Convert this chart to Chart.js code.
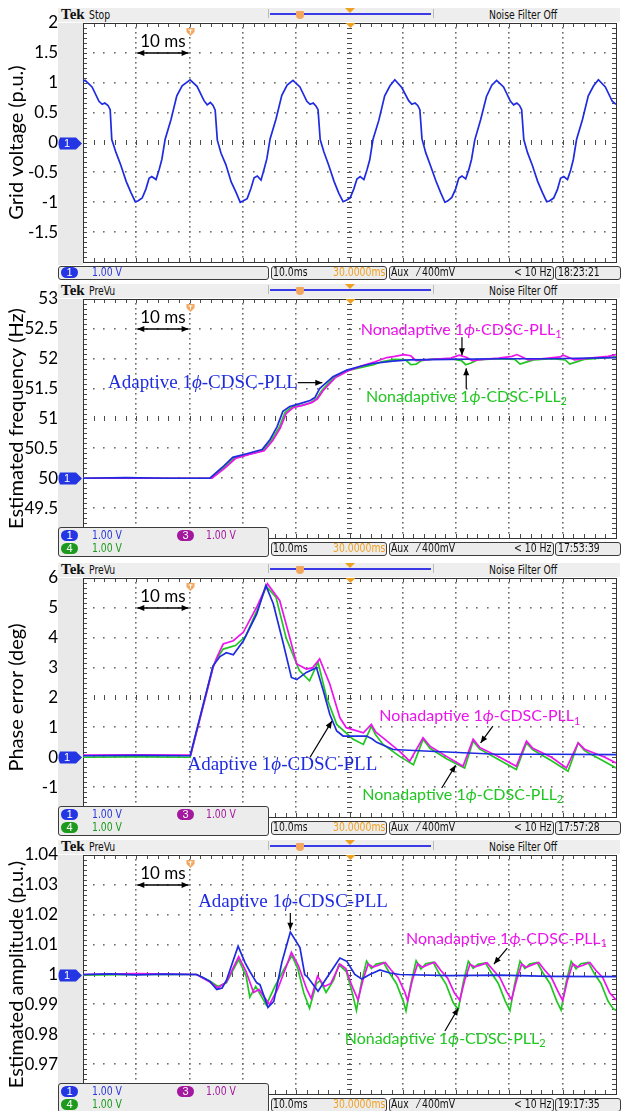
<!DOCTYPE html>
<html>
<head>
<meta charset="utf-8">
<title>1-phase CDSC-PLL comparison</title>
<script src="https://cdn.jsdelivr.net/npm/chart.js@4.4.1/dist/chart.umd.min.js"></script>
<style>
  body { margin: 0; background: #fff; }
  #page { position: relative; width: 623px; height: 1111px; overflow: hidden; }
  #page canvas { position: absolute; left: 0; z-index: 1; }
  #page div { position: absolute; }
  .tk { font-family: "Liberation Sans Narrow", "DejaVu Sans Condensed", "Liberation Sans", sans-serif;
        font-size: 12px; line-height: 13px; white-space: nowrap; color: #111;
        transform: scaleX(0.86); transform-origin: 0 50%; }
  .box { background: #ececec; border: 1px solid #3c3c3c; border-radius: 3px; box-sizing: border-box; z-index: 2; }
  .pill { width: 17px; height: 11px; border-radius: 6px; color: #fff; text-align: center;
          font: 11px/11px "Liberation Sans", sans-serif; }
</style>
</head>
<body>
<div id="page"></div>
<script>
// ---------- data (time in ms, 10 ms per division) ----------

// grid voltage (p.u.)
const gridT = [
  0, 0.4, 1.7, 3.0, 3.6, 4.1, 4.7, 5.1, 5.4, 6.2, 7.1, 8.1, 9.0, 9.8, 10.3, 11.1, 11.8, 12.4, 12.9, 13.7, 14.3, 14.8, 15.4, 16.5, 17.6, 18.6,
  20.1, 21.4, 22.7, 23.3, 23.9, 24.4, 24.8, 25.2, 25.9, 26.8, 27.8, 28.7, 29.5, 30.0, 30.8, 31.5, 32.1, 32.7, 33.4, 34.0, 34.5, 35.1, 36.2, 37.3, 38.3,
  39.4, 40.7, 42.0, 42.6, 43.2, 43.7, 44.1, 44.5, 45.2, 46.1, 47.1, 48.0, 48.8, 49.3, 50.1, 50.8, 51.4, 52.0, 52.7, 53.3, 53.8, 54.4, 55.5, 56.6, 57.6,
  58.5, 59.8, 61.1, 61.7, 62.3, 62.8, 63.2, 63.6, 64.3, 65.2, 66.2, 67.1, 67.9, 68.4, 69.2, 69.9, 70.5, 71.1, 71.8, 72.4, 72.9, 73.5, 74.6, 75.7, 76.7,
  77.6, 78.9, 80.2, 80.8, 81.4, 81.9, 82.3, 82.7, 83.4, 84.3, 85.3, 86.2, 87.0, 87.5, 88.3, 89.0, 89.6, 90.2, 90.9, 91.5, 92.0, 92.6, 93.7, 94.8, 95.8,
  96.7, 98.0, 99.3, 100
];
const gridV = [
  1.02, 1.04, 0.93, 0.69, 0.64, 0.66, 0.62, 0.55, 0.05, -0.17, -0.38, -0.65, -0.84, -0.99, -0.98, -0.93, -0.78, -0.60, -0.57, -0.62, -0.45, -0.28, 0.05, 0.38, 0.78, 0.95,
  1.05, 0.94, 0.70, 0.63, 0.67, 0.62, 0.54, 0.04, -0.18, -0.37, -0.66, -0.83, -1.00, -0.98, -0.94, -0.77, -0.59, -0.56, -0.63, -0.44, -0.27, 0.06, 0.39, 0.79, 0.96,
  1.04, 0.93, 0.69, 0.64, 0.66, 0.61, 0.55, 0.05, -0.16, -0.38, -0.65, -0.85, -0.99, -0.97, -0.93, -0.78, -0.61, -0.57, -0.62, -0.45, -0.29, 0.05, 0.37, 0.78, 0.95,
  1.05, 0.92, 0.70, 0.64, 0.66, 0.62, 0.55, 0.06, -0.17, -0.39, -0.64, -0.84, -1.00, -0.98, -0.92, -0.78, -0.60, -0.56, -0.61, -0.45, -0.28, 0.04, 0.38, 0.77, 0.96,
  1.04, 0.93, 0.69, 0.63, 0.66, 0.62, 0.55, 0.05, -0.17, -0.38, -0.65, -0.84, -0.99, -0.98, -0.93, -0.79, -0.60, -0.57, -0.62, -0.46, -0.28, 0.05, 0.38, 0.78, 0.95,
  1.05, 0.93, 0.69, 0.64
];

// estimated frequency (Hz)
const freqAdT = [0, 8, 16, 23.8, 26.1, 28.1, 30.7, 33.6, 35.1, 36.4, 37.5, 38.8, 40.7, 42.6, 43.5, 44.4, 46.9, 49.5, 51.9, 54.4, 58.1, 61.3, 68.8, 78.2, 87.6, 100];
const freqAdV = [50.0, 50.01, 50.0, 50.0, 50.18, 50.35, 50.41, 50.48, 50.65, 50.86, 51.12, 51.2, 51.25, 51.3, 51.35, 51.5, 51.7, 51.81, 51.87, 51.92, 51.96, 51.98, 51.99, 52.0, 52.0, 52.02];
const freqN1T = [0, 24.2, 26.5, 28.6, 31.2, 34.0, 35.6, 37.0, 38.1, 39.4, 41.2, 43.0, 44.0, 45.0, 47.3, 49.8, 52.3, 54.8, 57.0, 58.5, 60.2, 61.5, 62.5, 64.0, 67.0, 69.0, 70.6, 72.0, 73.0, 75.0, 78.0, 80.5, 81.4, 82.6, 83.5, 86.0, 89.5, 90.1, 91.2, 92.2, 95.0, 98.5, 100];
const freqN1V = [50.0, 50.0, 50.16, 50.33, 50.4, 50.46, 50.63, 50.84, 51.08, 51.18, 51.22, 51.27, 51.33, 51.46, 51.68, 51.8, 51.88, 51.95, 52.02, 52.04, 52.07, 52.05, 51.97, 51.98, 52.0, 52.01, 52.06, 52.02, 51.97, 51.99, 52.01, 52.04, 52.07, 52.02, 51.98, 52.0, 52.03, 52.06, 52.02, 51.98, 52.01, 52.04, 52.07];
const freqN2T = [0, 24.0, 26.3, 28.4, 31.0, 33.8, 35.4, 36.8, 37.9, 39.2, 41.0, 42.6, 43.8, 44.8, 47.1, 49.6, 52.0, 54.5, 56.0, 58.5, 60.5, 61.5, 62.5, 63.5, 66.0, 69.0, 71.0, 71.8, 72.8, 74.0, 78.0, 81.0, 82.0, 83.0, 84.5, 88.0, 90.5, 91.3, 92.3, 94.0, 97.0, 100];
const freqN2V = [50.0, 50.0, 50.17, 50.34, 50.4, 50.47, 50.64, 50.85, 51.1, 51.19, 51.22, 51.26, 51.33, 51.47, 51.69, 51.8, 51.85, 51.9, 51.95, 51.99, 51.98, 51.9, 51.91, 51.97, 52.0, 52.0, 51.97, 51.9, 51.93, 51.98, 52.0, 51.99, 51.91, 51.94, 51.98, 52.0, 51.98, 51.91, 51.94, 51.99, 52.01, 52.03];

// phase error (deg)
const phAdT = [0, 10, 20.1, 24.4, 25.7, 26.9, 28.2, 30.1, 32.6, 34.3, 35.7, 37.6, 39.1, 40.1, 41.9, 43.8, 45.1, 46.3, 47.6, 48.8, 53.2, 54.2, 55.1, 58.2, 65.1, 77.6, 88, 100];
const phAdV = [0.05, 0.06, 0.05, 3.06, 3.37, 3.5, 3.43, 3.9, 4.8, 5.75, 5.14, 3.79, 2.67, 2.6, 2.84, 3.0, 2.22, 1.44, 0.88, 0.71, 0.71, 0.62, 0.5, 0.26, 0.2, 0.1, 0.1, 0.09];
const phN1T = [0, 10, 20.2, 24.4, 25.1, 26.3, 28.2, 30.1, 32.6, 34.6, 36.9, 38.8, 40.1, 41.9, 43.1, 44.4, 46.3, 48.2, 49.4, 52.6, 54.1, 54.9, 56.3, 59.4, 61.3, 63.8, 65.1, 68.2, 71.3, 73.2, 74.4, 78.2, 81.3, 83.2, 84.4, 87.9, 90.7, 92.9, 94.1, 97.9, 100];
const phN1V = [0.07, 0.08, 0.07, 3.0, 3.34, 3.79, 3.9, 4.19, 5.03, 5.81, 5.25, 4.0, 3.12, 2.95, 3.0, 3.29, 2.45, 1.32, 0.99, 0.82, 1.1, 0.85, 0.65, 0.2, -0.13, 0.65, 0.37, 0.03, -0.3, 0.6, 0.33, 0.0, -0.3, 0.54, 0.3, 0.0, -0.36, 0.48, 0.27, 0.0, -0.19];
const phN2T = [0, 10, 20.1, 24.4, 25.1, 26.3, 28.6, 30.5, 32.6, 34.4, 36.2, 38.1, 40.6, 42.5, 44.1, 45.7, 47.6, 50.7, 52.6, 54.1, 54.9, 56.3, 59.4, 62.0, 63.8, 65.1, 68.2, 71.6, 73.2, 74.4, 78.2, 81.3, 83.2, 84.4, 87.9, 91.0, 92.9, 94.1, 97.9, 100];
const phN2V = [0.0, 0.01, 0.0, 3.03, 3.3, 3.62, 3.74, 4.05, 4.9, 5.72, 5.36, 4.0, 2.9, 2.56, 3.18, 2.0, 1.1, 0.6, 0.43, 1.04, 0.75, 0.43, 0.03, -0.25, 0.6, 0.3, -0.05, -0.36, 0.54, 0.28, -0.1, -0.41, 0.48, 0.25, -0.12, -0.47, 0.48, 0.22, -0.15, -0.36];

// estimated amplitude (p.u.)
const ampAdT = [0, 5, 10, 15, 21.3, 22.5, 23.8, 25.1, 26.1, 26.9, 29.1, 30.4, 31.3, 32.6, 33.2, 34.7, 35.8, 37.3, 38.9, 40.7, 41.6, 42.2, 44.1, 45.4, 46.9, 48.2, 49.5, 51.0, 52.3, 53.8, 55.7, 57.6, 59.4, 68.8, 78.2, 87.6, 100];
const ampAdV = [1.0, 1.0002, 0.9999, 1.0001, 1.0, 0.999, 0.9977, 0.995, 0.9955, 0.998, 1.0095, 1.004, 1.001, 0.9972, 0.9966, 0.989, 0.991, 1.004, 1.0142, 1.009, 1.0, 0.999, 0.9944, 0.998, 1.002, 1.0055, 1.0044, 1.0, 0.9985, 1.0, 1.0015, 1.0005, 1.0, 0.9996, 0.9998, 0.9994, 0.9993];
const ampN1T = [
  0, 10, 21.3, 23.8, 25.3, 26.9, 29.2, 30.6, 32.0, 33.0, 35.0, 36.5, 38.0, 39.1, 40.4, 42.0, 42.8, 44.0, 45.3, 46.5, 48.2, 49.3, 50.5,
  51.6, 52.5, 53.5, 54.4, 55.3, 56.7, 57.8, 59.1, 60.4,
  60.9, 61.8, 62.8, 63.7, 64.6, 66.0, 67.1, 68.4, 69.7,
  70.7, 71.6, 72.6, 73.5, 74.4, 75.8, 76.9, 78.2, 79.5,
  80.4, 81.3, 82.3, 83.2, 84.1, 85.5, 86.6, 87.9, 89.2,
  90.0, 90.9, 91.9, 92.8, 93.7, 95.1, 96.2, 97.5, 98.8, 100
];
const ampN1V = [
  1.0, 1.0003, 1.0, 0.9975, 0.9955, 0.9975, 1.006, 1.001, 0.994, 0.995, 0.990, 0.995, 1.002, 1.0074, 1.003, 0.995, 0.992, 0.9994, 0.996, 0.997, 1.0035, 1.002, 0.996,
  0.9915, 0.998, 1.0035, 1.0025, 1.003, 1.004, 1.0015, 0.999, 0.994,
  0.9912, 0.9982, 1.0036, 1.0024, 1.0032, 1.0041, 1.0014, 0.9988, 0.9938,
  0.9914, 0.998, 1.0034, 1.0026, 1.003, 1.0039, 1.0016, 0.999, 0.9942,
  0.9916, 0.9978, 1.0035, 1.0024, 1.0031, 1.004, 1.0015, 0.9989, 0.994,
  0.9913, 0.9981, 1.0036, 1.0025, 1.003, 1.004, 1.0014, 0.999, 0.9939, 0.9915
];
const ampN2T = [
  0, 10, 21.3, 23.8, 25.3, 26.9, 29.2, 30.6, 31.3, 32.4, 34.4, 36.0, 37.8, 39.2, 40.3, 41.4, 42.5, 43.8, 44.5, 45.6, 47.0, 48.0, 49.4, 50.5,
  51.3, 52.2, 53.2, 54.1, 55.0, 56.4, 57.5, 58.8, 60.1,
  60.6, 61.5, 62.5, 63.4, 64.3, 65.7, 66.8, 68.1, 69.4,
  70.4, 71.3, 72.3, 73.2, 74.1, 75.5, 76.6, 77.9, 79.2,
  80.1, 81.0, 82.0, 82.9, 83.8, 85.2, 86.3, 87.6, 88.9,
  89.7, 90.6, 91.6, 92.5, 93.4, 94.8, 95.9, 97.2, 98.5, 99.5, 100
];
const ampN2V = [
  0.9998, 1.0, 1.0, 0.9978, 0.996, 0.9972, 1.005, 0.9995, 0.9924, 0.996, 0.9898, 0.996, 1.002, 1.0063, 1.002, 0.994, 0.9887, 0.997, 0.998, 0.994, 0.998, 1.0033, 1.001, 0.994,
  0.988, 0.997, 1.0045, 1.002, 1.0035, 1.004, 1.0005, 0.997, 0.991,
  0.9878, 0.9968, 1.0046, 1.0018, 1.0036, 1.0041, 1.0004, 0.9968, 0.9908,
  0.9882, 0.997, 1.0044, 1.0021, 1.0034, 1.0039, 1.0006, 0.9971, 0.9912,
  0.9879, 0.9969, 1.0045, 1.002, 1.0035, 1.004, 1.0005, 0.997, 0.991,
  0.9881, 0.997, 1.0044, 1.0019, 1.0036, 1.004, 1.0004, 0.9969, 0.9911, 0.9885, 0.988
];

// y ticks (bottom to top) and their labels
const gridTicks = [-2, -1.5, -1, -0.5, 0, 0.5, 1, 1.5, 2];
const gridLabels = ['', '-1.5', '-1', '-0.5', '0', '0.5', '1', '1.5', '2'];
const freqTicks = [49, 49.5, 50, 50.5, 51, 51.5, 52, 52.5, 53];
const freqLabels = ['', '49.5', '50', '50.5', '51', '51.5', '52', '52.5', '53'];
const phTicks = [-2, -1, 0, 1, 2, 3, 4, 5, 6];
const phLabels = ['', '-1', '0', '1', '2', '3', '4', '5', '6'];
const ampTicks = [0.96, 0.97, 0.98, 0.99, 1.0, 1.01, 1.02, 1.03, 1.04];
const ampLabels = ['', '0.97', '0.98', '0.99', '1', '1.01', '1.02', '1.03', '1.04'];

const yTitles = ['Grid voltage (p.u.)', 'Estimated frequency (Hz)', 'Phase error (deg)', 'Estimated amplitude (p.u.)'];
const runStates = ['Stop', 'PreVu', 'PreVu', 'PreVu'];
const clocks = ['18:23:21', '17:53:39', '17:57:28', '19:17:35'];
const adaptiveName = 'Adaptive 1';
const nonadaptiveName = 'Nonadaptive 1';

// ---------- layout ----------
const BLUE = '#1f2be0', MAGENTA = '#ec14ec', GREEN = '#22c622';
const panelTops = [23, 299, 578, 855];
const PLOT_H = 239;
const page = document.getElementById('page');

function add(css, html, cls) {
  const d = document.createElement('div');
  if (cls) d.className = cls;
  d.style.cssText = css;
  if (html != null) d.innerHTML = html;
  page.appendChild(d);
  return d;
}

function arrowHead(ctx, x1, y1, x2, y2) {
  const a = Math.atan2(y2 - y1, x2 - x1), len = 7, half = 3;
  ctx.beginPath();
  ctx.moveTo(x2, y2);
  ctx.lineTo(x2 - len * Math.cos(a) + half * Math.sin(a), y2 - len * Math.sin(a) - half * Math.cos(a));
  ctx.lineTo(x2 - len * Math.cos(a) - half * Math.sin(a), y2 - len * Math.sin(a) + half * Math.cos(a));
  ctx.closePath();
  ctx.fill();
}
function arrow(ctx, x1, y1, x2, y2, both) {
  ctx.beginPath(); ctx.moveTo(x1, y1); ctx.lineTo(x2, y2); ctx.stroke();
  arrowHead(ctx, x1, y1, x2, y2);
  if (both) arrowHead(ctx, x2, y2, x1, y1);
}

// series name with italic phi and optional subscript
function seriesLabel(ctx, x, y, color, serif, sub) {
  const size = serif ? 19 : 16;
  const fam = serif ? '"Liberation Serif", serif' : 'Lato, sans-serif';
  const parts = [[serif ? adaptiveName : nonadaptiveName, `${size}px ${fam}`, 0],
                 ['\u03d5', `italic ${size}px ${fam}`, 0],
                 ['-CDSC-PLL', `${size}px ${fam}`, 0]];
  if (sub) parts.push([sub, `11px ${fam}`, 5]);
  ctx.fillStyle = color;
  ctx.textAlign = 'left';
  ctx.textBaseline = 'middle';
  let cx = x;
  for (const [t, f, dy] of parts) {
    ctx.font = f;
    ctx.fillText(t, cx, y + dy);
    cx += ctx.measureText(t).width;
  }
}

function graticule(chart) {
  const ctx = chart.ctx, a = chart.chartArea;
  const L = Math.round(a.left), R = Math.round(a.right), T = Math.round(a.top), B = Math.round(a.bottom);
  const dx = (R - L) / 10, dy = (B - T) / 8;
  ctx.save();
  ctx.fillStyle = '#6e6e6e';
  for (let i = 1; i < 10; i++) {
    if (i === 5) continue;
    const x = Math.round(L + i * dx);
    for (let j = 1; j < 48; j++) ctx.fillRect(x - 1, Math.round(T + j * dy / 6) - 1, 1.6, 1.6);
  }
  for (let k = 1; k < 8; k++) {
    if (k === 4) continue;
    const y = Math.round(T + k * dy);
    for (let i = 1; i < 50; i++) ctx.fillRect(Math.round(L + i * dx / 5) - 1, y - 1, 1.6, 1.6);
  }
  ctx.fillStyle = '#4a4a4a';
  const xc = Math.round(L + 5 * dx), yc = Math.round(T + 4 * dy);
  for (let j = 1; j < 48; j++) ctx.fillRect(xc - 3, Math.round(T + j * dy / 6), 5, 1);
  for (let i = 1; i < 50; i++) ctx.fillRect(Math.round(L + i * dx / 5), yc - 3, 1, 5);
  for (let i = 1; i < 50; i++) {
    const x = Math.round(L + i * dx / 5);
    ctx.fillRect(x, T, 1, 4);
    ctx.fillRect(x, B - 4, 1, 4);
  }
  for (let j = 1; j < 48; j++) {
    const y = Math.round(T + j * dy / 6);
    ctx.fillRect(L, y, 4, 1);
    ctx.fillRect(R - 4, y, 4, 1);
  }
  ctx.strokeStyle = '#333';
  ctx.lineWidth = 1;
  ctx.strokeRect(L + 0.5, T + 0.5, R - L, B - T);
  ctx.restore();
}

function scopePlugin(spec) {
  return {
    id: 'scope',
    beforeDatasetsDraw(chart) { graticule(chart); },
    afterDraw(chart) {
      const ctx = chart.ctx, a = chart.chartArea, xs = chart.scales.x, ys = chart.scales.y;
      const X = v => xs.getPixelForValue(v), Y = v => ys.getPixelForValue(v);
      ctx.save();
      // trigger marker and record-centre marker
      let tx = Math.round(X(20)) + 0.5;
      ctx.fillStyle = '#f2a65e';
      ctx.beginPath();
      ctx.moveTo(tx - 4, a.top + 5); ctx.lineTo(tx + 4, a.top + 5); ctx.lineTo(tx + 4, a.top + 9);
      ctx.lineTo(tx, a.top + 13); ctx.lineTo(tx - 4, a.top + 9); ctx.closePath(); ctx.fill();
      ctx.fillStyle = '#fff';
      ctx.fillRect(tx - 2, a.top + 6.5, 4, 1); ctx.fillRect(tx - 0.5, a.top + 6.5, 1, 4);
      tx = Math.round(X(50)) + 0.5;
      ctx.fillStyle = '#f0a020';
      ctx.beginPath(); ctx.moveTo(tx - 5, a.top); ctx.lineTo(tx + 5, a.top); ctx.lineTo(tx, a.top + 5); ctx.closePath(); ctx.fill();

      // 10 ms scale bar
      ctx.fillStyle = '#000'; ctx.strokeStyle = '#000'; ctx.lineWidth = 1.3;
      ctx.font = '17px Lato, sans-serif'; ctx.textAlign = 'center'; ctx.textBaseline = 'middle';
      ctx.fillText('10 ms', (X(10) + X(20)) / 2, a.top + 19);
      arrow(ctx, X(10) + 1, a.top + 30, X(20) - 1, a.top + 30, true);

      for (const n of spec.notes) seriesLabel(ctx, X(n.x), Y(n.y), n.color, n.serif, n.sub);
      ctx.fillStyle = '#000'; ctx.strokeStyle = '#000'; ctx.lineWidth = 1.2;
      for (const r of spec.arrows) arrow(ctx, X(r.x1), Y(r.y1), X(r.x2), Y(r.y2), false);

      // channel 1 ground marker
      const gy = Math.round(Y(spec.ground)) + 0.5;
      ctx.fillStyle = '#2436e4';
      ctx.beginPath();
      ctx.moveTo(60, gy - 6); ctx.lineTo(76, gy - 6); ctx.lineTo(82, gy); ctx.lineTo(76, gy + 6);
      ctx.lineTo(60, gy + 6); ctx.quadraticCurveTo(57, gy, 60, gy - 6); ctx.closePath(); ctx.fill();
      ctx.fillStyle = '#fff'; ctx.font = '11px "Liberation Sans", sans-serif'; ctx.textAlign = 'center';
      ctx.fillText('1', 67, gy + 0.5);
      ctx.restore();
    }
  };
}

function makePanel(i, series, ticks, labels, spec) {
  const P = panelTops[i], B = P + PLOT_H;

  // scope screen chrome: grey margin, header, footer readouts
  add(`left:58px;top:${P}px;width:25px;height:${PLOT_H + 3}px;background:#e9e9e9`);
  add(`left:58px;top:${P - 15}px;width:562px;height:14px;background:#eeeeee`);
  add(`left:61px;top:${P - 16}px;font:bold 15px/15px "Liberation Serif",serif;color:#111`, 'Tek');
  add(`left:89px;top:${P - 14}px`, runStates[i], 'tk');
  add(`left:268px;top:${P - 14}px;width:164px;height:9px;border-left:1px solid #bbb;border-right:1px solid #bbb`);
  add(`left:270px;top:${P - 10}px;width:161px;height:1.5px;background:#3a3ae6`);
  add(`left:296px;top:${P - 12}px;width:8px;height:8px;background:#f2a65e;border-radius:1px 1px 4px 4px`);
  add(`left:345px;top:${P - 15}px;width:0;height:0;border-left:5px solid transparent;border-right:5px solid transparent;border-top:5px solid #f0a020`);
  add(`left:489px;top:${P - 14}px`, 'Noise Filter Off', 'tk');

  if (i === 0) {
    add(`left:58px;top:${B + 4}px;width:211px;height:14px`, null, 'box');
    add(`left:61px;top:${B + 5}px;z-index:3;background:#2436e4`, '1', 'pill');
    add(`left:92px;top:${B + 4}px;z-index:3;color:#2a36dd`, '1.00 V', 'tk');
  } else {
    add(`left:58px;top:${B - 11}px;width:211px;height:30px`, null, 'box');
    add(`left:61px;top:${B - 8}px;z-index:3;background:#2436e4`, '1', 'pill');
    add(`left:92px;top:${B - 9}px;z-index:3;color:#2a36dd`, '1.00 V', 'tk');
    add(`left:177px;top:${B - 8}px;z-index:3;background:#a4179f`, '3', 'pill');
    add(`left:206px;top:${B - 9}px;z-index:3;color:#a4179f`, '1.00 V', 'tk');
    add(`left:61px;top:${B + 5}px;z-index:3;background:#1d9a1d`, '4', 'pill');
    add(`left:92px;top:${B + 4}px;z-index:3;color:#1d9a1d`, '1.00 V', 'tk');
  }
  add(`left:271px;top:${B + 4}px;width:116px;height:14px`, null, 'box');
  add(`left:273px;top:${B + 4}px;z-index:3`, '10.0ms', 'tk');
  add(`left:333px;top:${B + 4}px;z-index:3;color:#f0a020`, '30.0000ms', 'tk');
  add(`left:389px;top:${B + 4}px;width:165px;height:14px`, null, 'box');
  add(`left:391px;top:${B + 4}px;z-index:3`, 'Aux&nbsp;&nbsp;&nbsp;\u2044 400mV', 'tk');
  add(`left:514px;top:${B + 4}px;z-index:3`, '&lt; 10 Hz', 'tk');
  add(`left:555px;top:${B + 4}px;width:66px;height:14px`, null, 'box');
  add(`left:558px;top:${B + 4}px;z-index:3`, clocks[i], 'tk');

  const cv = document.createElement('canvas');
  cv.width = 623; cv.height = PLOT_H + 24;
  cv.style.top = (P - 12) + 'px';
  page.appendChild(cv);

  new Chart(cv, {
    type: 'line',
    data: {
      datasets: series.map(s => ({
        data: s.t.map((t, k) => ({ x: t, y: s.v[k] })),
        borderColor: s.color, borderWidth: 1.7, pointRadius: 0, tension: 0, fill: false
      }))
    },
    options: {
      responsive: false, animation: false, events: [],
      layout: { padding: { top: 12, bottom: 12, right: 7, left: 0 } },
      plugins: { legend: { display: false }, tooltip: { enabled: false } },
      scales: {
        x: { type: 'linear', min: 0, max: 100, display: false },
        y: {
          type: 'linear', min: ticks[0], max: ticks[ticks.length - 1],
          afterBuildTicks: s => { s.ticks = ticks.map(v => ({ value: v })); },
          afterFit: s => { s.width = 83; },
          // tick labels sit 25px left of the plot; an invisible tick length keeps
          // the vertical padding of the axis from growing
          grid: { display: false, drawTicks: true, tickLength: 25 }, border: { display: false },
          ticks: { padding: 0, color: '#000', font: { family: 'Lato', size: 17 }, callback: (v, k) => labels[k] },
          title: { display: true, text: yTitles[i], color: '#000', font: { family: 'Lato', size: 20 }, padding: { top: 5, bottom: 0 } }
        }
      }
    },
    plugins: [scopePlugin(spec)]
  });
}

makePanel(0, [{ t: gridT, v: gridV, color: BLUE }], gridTicks, gridLabels,
  { ground: 0, notes: [], arrows: [] });

makePanel(1, [
  { t: freqAdT, v: freqAdV, color: BLUE },
  { t: freqN1T, v: freqN1V, color: MAGENTA },
  { t: freqN2T, v: freqN2V, color: GREEN }
], freqTicks, freqLabels, {
  ground: 50,
  notes: [
    { x: 4.7, y: 51.59, color: BLUE, serif: true },
    { x: 52.1, y: 52.49, color: MAGENTA, sub: '1' },
    { x: 53.1, y: 51.37, color: GREEN, sub: '2' }
  ],
  arrows: [
    { x1: 40.3, y1: 51.6, x2: 44.9, y2: 51.6 },
    { x1: 71.1, y1: 52.36, x2: 71.1, y2: 52.06 },
    { x1: 71.9, y1: 51.5, x2: 71.9, y2: 51.84 }
  ]
});

makePanel(2, [
  { t: phAdT, v: phAdV, color: BLUE },
  { t: phN1T, v: phN1V, color: MAGENTA },
  { t: phN2T, v: phN2V, color: GREEN }
], phTicks, phLabels, {
  ground: 0,
  notes: [
    { x: 19.6, y: -0.25, color: BLUE, serif: true },
    { x: 55.6, y: 1.38, color: MAGENTA, sub: '1' },
    { x: 52.4, y: -1.25, color: GREEN, sub: '2' }
  ],
  arrows: [
    { x1: 42.6, y1: 0.0, x2: 46.7, y2: 1.21 },
    { x1: 76.9, y1: 1.04, x2: 74.6, y2: 0.48 },
    { x1: 67.3, y1: -1.03, x2: 69.9, y2: -0.27 }
  ]
});

makePanel(3, [
  { t: ampAdT, v: ampAdV, color: BLUE },
  { t: ampN1T, v: ampN1V, color: MAGENTA },
  { t: ampN2T, v: ampN2V, color: GREEN }
], ampTicks, ampLabels, {
  ground: 1,
  notes: [
    { x: 21.6, y: 1.0243, color: BLUE, serif: true },
    { x: 60.6, y: 1.012, color: MAGENTA, sub: '1' },
    { x: 49.1, y: 0.9786, color: GREEN, sub: '2' }
  ],
  arrows: [
    { x1: 38.9, y1: 1.0206, x2: 38.9, y2: 1.015 },
    { x1: 79.6, y1: 1.0088, x2: 77.1, y2: 1.0035 },
    { x1: 67.9, y1: 0.9811, x2: 70.4, y2: 0.9887 }
  ]
});
</script>
</body>
</html>
